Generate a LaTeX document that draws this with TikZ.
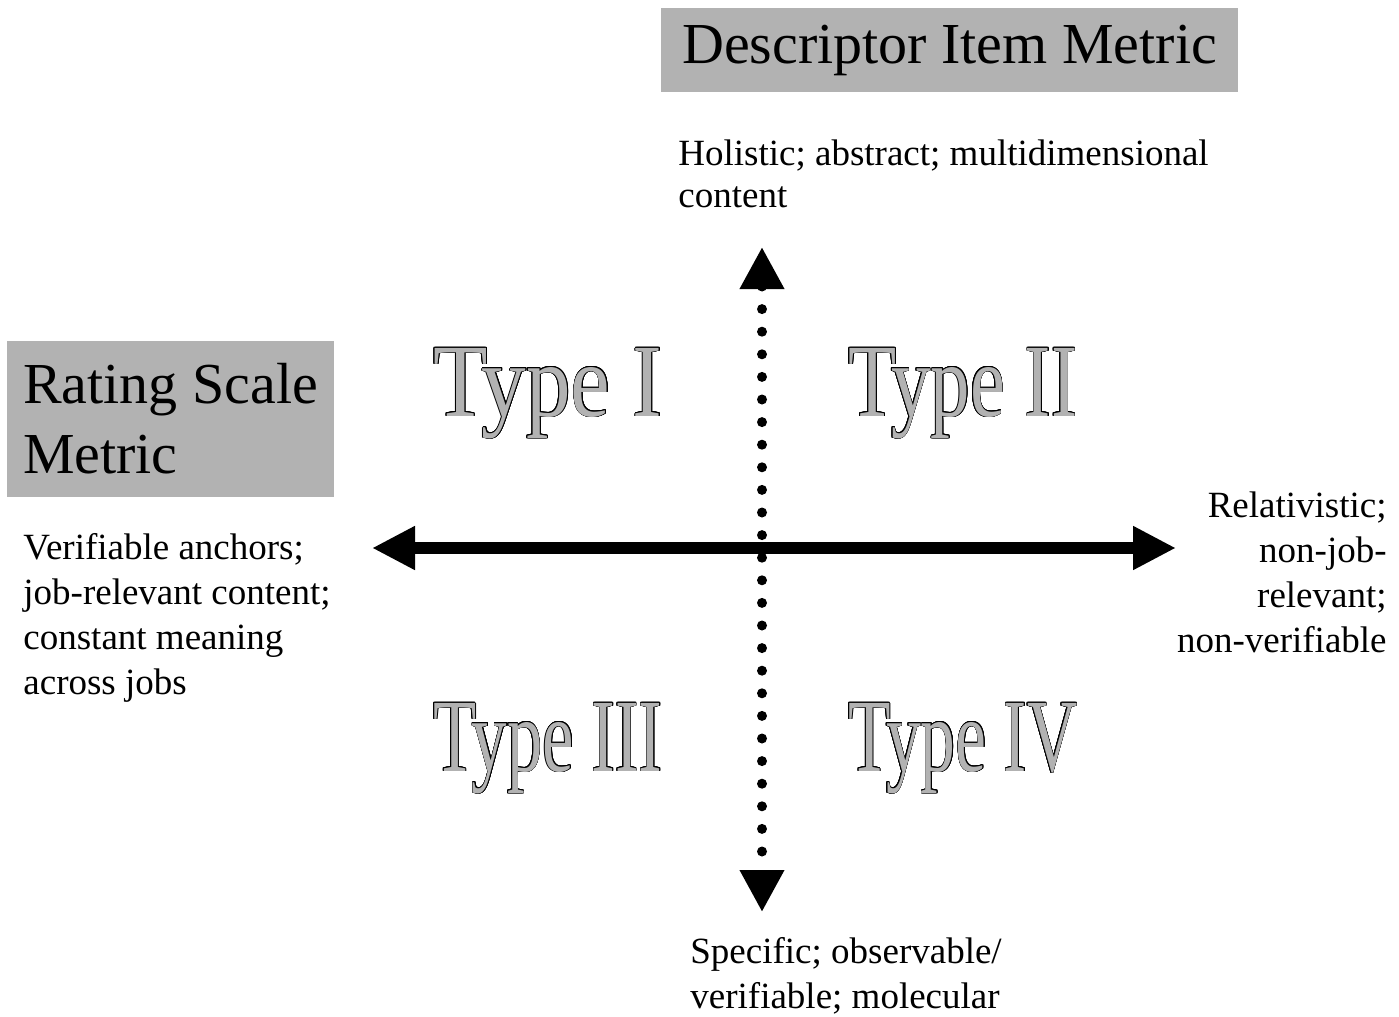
\documentclass[tikz,border=0pt]{standalone}
\usepackage{fontspec}
\setmainfont{Liberation Serif}
\usepackage{contour}
\usetikzlibrary{arrows.meta}
\definecolor{metricgray}{gray}{0.7}
\contourlength{0.45pt}
% grey letters with a black outline, all squeezed to one width
\newcommand{\typelabel}[1]{\resizebox{114.5pt}{\height}{\contour{black}{\textcolor{metricgray}{#1}}}}

\begin{document}
\begin{tikzpicture}[x=0.5pt,y=-0.5pt,
  metricbox/.style={fill=metricgray, inner sep=0pt, font=\fontsize{29}{35}\selectfont},
  poletext/.style={inner sep=0pt, font=\fontsize{18.5}{22.5}\selectfont},
  typetext/.style={inner sep=0pt, anchor=base west, font=\fontsize{52}{60}\selectfont}]
  \useasboundingbox (0,0) rectangle (1399,1017);

  % the two metric boxes
  \node[metricbox, minimum width=288.5pt, minimum height=42pt] (item) at (949.5,50) {Descriptor Item Metric};
  \node[metricbox, minimum width=163.5pt, minimum height=78pt, align=left] (scale) at (170.5,419) {Rating Scale\\Metric};

  % ends of the two axes (base = last line)
  \node[poletext, anchor=base west, align=left, font=\fontsize{18.5}{21}\selectfont] (holistic) at (678,207) {Holistic; abstract; multidimensional\\content};
  \node[poletext, anchor=base west, align=left] (specific) at (690,1008) {Specific; observable/\\verifiable; molecular};
  \node[poletext, anchor=base west, align=left] (verifiable) at (23,694) {Verifiable anchors;\\job-relevant content;\\constant meaning\\across jobs};
  \node[poletext, anchor=base east, align=right] (relativistic) at (1387,652) {Relativistic;\\non-job-\\relevant;\\non-verifiable};

  \coordinate (top) at (762,247);
  \coordinate (bottom) at (762,912);
  \coordinate (left) at (372,548);
  \coordinate (right) at (1176,548);

  \draw[line width=5pt, line cap=round, dash pattern=on 0pt off 11.3pt,
    {Triangle[length=21pt,width=21pt]}-{Triangle[length=21pt,width=21pt]}] (top) -- (bottom);
  \draw[line width=6pt, {Triangle[length=21.5pt,width=20.5pt]}-{Triangle[length=21.5pt,width=20.5pt]}] (left) -- (right);

  % the four quadrants
  \node[typetext] (type1) at (433,416) {\typelabel{Type I}};
  \node[typetext] (type2) at (848,416) {\typelabel{Type II}};
  \node[typetext] (type3) at (433,771) {\typelabel{Type III}};
  \node[typetext] (type4) at (848,771) {\typelabel{Type IV}};
\end{tikzpicture}
\end{document}
